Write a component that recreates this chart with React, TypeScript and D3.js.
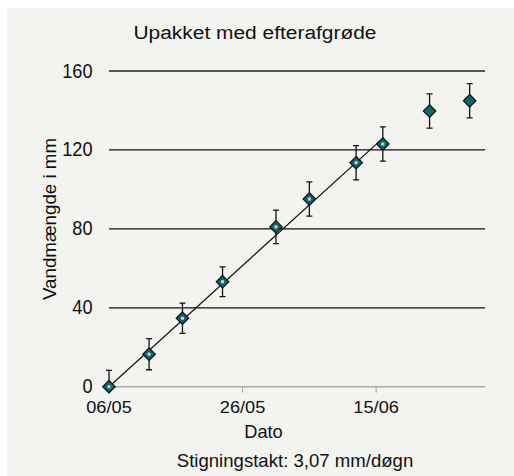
import React from "react";
import * as d3 from "d3";

const dates = ["2010-05-06", "2010-05-12", "2010-05-17", "2010-05-23", "2010-05-31", "2010-06-05", "2010-06-12", "2010-06-16", "2010-06-23", "2010-06-29"];
const values = [0, 16.5, 34.7, 53.2, 81, 95.1, 113.5, 123, 139.7, 144.9];
const errors = [8.3, 7.9, 7.7, 7.5, 8.5, 8.7, 8.7, 8.7, 8.7, 8.7];
const fitted = [true, true, true, true, true, true, true, true, false, false];
const yTicks = [0, 40, 80, 120, 160];
const xTicks = ["2010-05-06", "2010-05-26", "2010-06-15"];
const slope = 3.07;
const trendStart = "2010-05-06";
const trendEndDays = 40.5;

const W = 514, H = 476;
const FONT = "'Liberation Sans', Arial, sans-serif";

export default function App() {
  const parse = (s: string) => new Date(s + "T00:00:00");
  const t0 = parse("2010-05-06");
  const dayMs = 86400000;
  const x = d3.scaleTime().domain([t0, new Date(t0.getTime() + 56.3 * dayMs)]).range([109, 485]);
  const y = d3.scaleLinear().domain([0, 160]).range([386.7, 71]);
  const fmt = d3.timeFormat("%d/%m");
  const ts = parse(trendStart);
  const te = new Date(ts.getTime() + trendEndDays * dayMs);
  const trend = d3.line<[Date, number]>().x(d => x(d[0])).y(d => y(d[1]))([[ts, 0], [te, slope * trendEndDays]]);
  const diamond = d3.symbol().type(d3.symbolDiamond2).size(100)();
  const tickW = (v: number) => String(v).length * 10.1;
  return (
    <svg width={W} height={H} style={{ position: "absolute", left: 0, top: 0 }}>
      <rect x={7} y={8} width={W - 7} height={H - 8} fill="#f3f3ef" />
      <defs>
        <clipPath id="plot"><rect x={100} y={60} width={400} height={326.7} /></clipPath>
      </defs>
      <text x={255} y={39.3} textAnchor="middle" fontFamily={FONT} fontSize={18} textLength={243} lengthAdjust="spacingAndGlyphs" fill="#111">Upakket med efterafgrøde</text>
      {yTicks.filter(v => v > 0).map(v => (
        <line key={v} x1={109} x2={485} y1={y(v)} y2={y(v)} stroke={v === 160 ? "#555" : "#111"} strokeWidth={v === 160 ? 1.8 : 1.2} />
      ))}
      <line x1={109} x2={485} y1={y(0)} y2={y(0)} stroke="#aaa" strokeWidth={1.5} />
      {xTicks.map(s => (
        <line key={s} x1={x(parse(s))} x2={x(parse(s))} y1={y(0)} y2={y(0) + 6} stroke="#aaa" strokeWidth={1.2} />
      ))}
      {yTicks.map(v => (
        <text key={v} x={92.5} y={y(v) + 6.5} textAnchor="end" fontFamily={FONT} fontSize={19.5} textLength={tickW(v)} lengthAdjust="spacingAndGlyphs" fill="#111">{v}</text>
      ))}
      {xTicks.map(s => (
        <text key={s} x={x(parse(s))} y={413.3} textAnchor="middle" fontFamily={FONT} fontSize={17} textLength={45.5} lengthAdjust="spacingAndGlyphs" fill="#111">{fmt(parse(s))}</text>
      ))}
      <text x={263.5} y={437.5} textAnchor="middle" fontFamily={FONT} fontSize={18.5} textLength={38.5} lengthAdjust="spacingAndGlyphs" fill="#111">Dato</text>
      <text x={295} y={467} textAnchor="middle" fontFamily={FONT} fontSize={19} textLength={236.5} lengthAdjust="spacingAndGlyphs" fill="#111">Stigningstakt: 3,07 mm/døgn</text>
      <text transform={`translate(56,219) rotate(-90)`} textAnchor="middle" fontFamily={FONT} fontSize={19} textLength={162} lengthAdjust="spacingAndGlyphs" fill="#111">Vandmængde i mm</text>
      <g clipPath="url(#plot)">
        {dates.map((s, i) => {
          const cx = x(parse(s));
          const top = y(values[i] + errors[i]);
          const bot = y(values[i] - errors[i]);
          return (
            <g key={s} stroke="#111" strokeWidth={1.3}>
              <line x1={cx} x2={cx} y1={top} y2={bot} />
              <line x1={cx - 3} x2={cx + 3} y1={top} y2={top} />
              <line x1={cx - 3} x2={cx + 3} y1={bot} y2={bot} />
            </g>
          );
        })}
      </g>
      <path d={trend || ""} stroke="#111" strokeWidth={1.2} fill="none" />
      {dates.map((s, i) => (
        <g key={s} transform={`translate(${x(parse(s))},${y(values[i])})`}>
          <path d={diamond || ""} fill="#0e6471" stroke="#111" strokeWidth={1.2} />
          {fitted[i] && <rect x={-1.5} y={-1.5} width={3} height={3} fill="#c8d8d4" />}
        </g>
      ))}
    </svg>
  );
}
